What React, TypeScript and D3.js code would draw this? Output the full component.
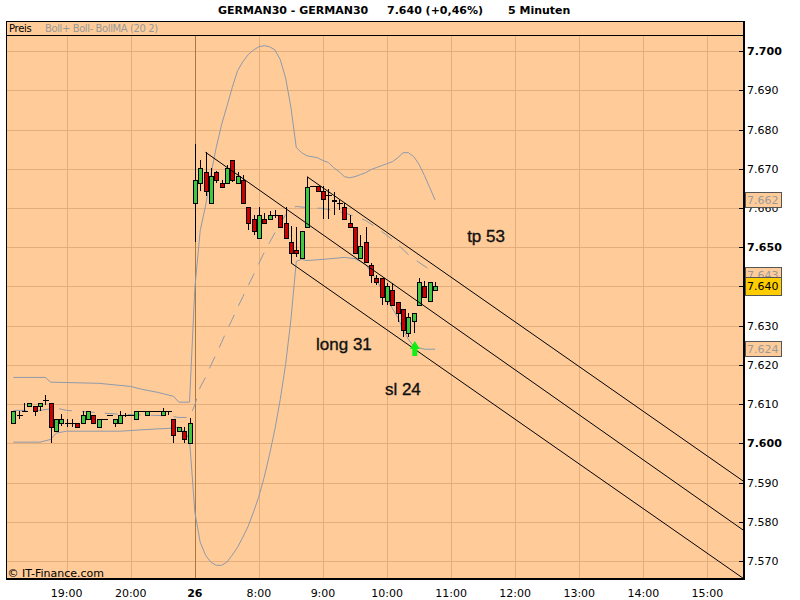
import * as d3 from "d3";

// 5-minute bars, one per slot: slots 0-33 are the evening session, 34-79 the morning of the 26th
const opens = [
  7605.3, 7607.2, 7608.2, 7609.4, 7609.4, 7609.4, 7611.0, 7610.4, 7603.1, 7605.3,
  7605.3, 7605.3, 7605.3, 7605.3, 7606.3, 7607.2, 7604.2, 7606.3, 7607.2, 7605.3,
  7605.3, 7607.2, 7607.2, 7606.3, 7608.2, 7607.2, 7608.2, 7608.2, 7607.2, 7608.2,
  7606.3, 7603.1, 7603.1, 7600.2,
  7661.3, 7666.4, 7669.2, 7661.3, 7669.1, 7666.3, 7666.3, 7672.3, 7666.3, 7667.2,
  7660.2, 7657.2, 7652.4, 7657.2, 7657.2, 7658.3, 7658.3, 7656.2, 7651.3, 7649.4,
  7647.3, 7655.2, 7665.5, 7665.5, 7664.3, 7663.2, 7662.0, 7661.2, 7660.3, 7656.2,
  7655.2, 7647.3, 7651.3, 7645.5, 7642.1, 7642.1, 7636.2, 7639.1, 7636.1, 7634.2,
  7628.1, 7631.1, 7635.3, 7640.2, 7636.2, 7639.0,
];
const highs = [
  7608.2, 7608.2, 7610.4, 7610.4, 7609.4, 7610.4, 7612.2, 7610.4, 7606.3, 7607.5,
  7606.3, 7606.3, 7605.3, 7608.2, 7608.2, 7607.2, 7606.3, 7606.3, 7607.2, 7606.3,
  7608.2, 7607.7, 7607.2, 7608.2, 7608.2, 7608.2, 7608.2, 7608.2, 7609.0, 7608.2,
  7606.3, 7604.2, 7604.2, 7606.4,
  7676.3, 7672.3, 7674.2, 7670.1, 7669.5, 7667.2, 7671.0, 7672.3, 7669.3, 7668.3,
  7660.2, 7658.3, 7660.3, 7658.6, 7659.2, 7659.5, 7658.3, 7660.3, 7655.4, 7655.2,
  7654.1, 7668.0, 7665.5, 7665.5, 7665.5, 7664.8, 7664.2, 7662.1, 7661.3, 7658.3,
  7655.2, 7653.0, 7655.2, 7646.0, 7643.0, 7642.1, 7641.0, 7641.0, 7636.1, 7634.2,
  7633.2, 7633.2, 7642.1, 7641.5, 7641.1, 7641.1,
];
const lows = [
  7605.3, 7606.3, 7608.2, 7609.4, 7607.0, 7608.2, 7609.7, 7600.2, 7603.1, 7604.5,
  7604.2, 7604.2, 7604.2, 7605.3, 7606.3, 7605.3, 7604.2, 7606.3, 7607.2, 7604.2,
  7605.3, 7606.7, 7607.2, 7606.3, 7608.2, 7607.2, 7608.2, 7608.2, 7607.2, 7607.2,
  7600.2, 7603.1, 7600.2, 7600.2,
  7651.3, 7664.3, 7663.0, 7661.3, 7666.3, 7665.3, 7666.3, 7666.5, 7666.3, 7661.3,
  7654.5, 7653.1, 7652.4, 7656.2, 7657.2, 7657.5, 7655.2, 7652.4, 7646.0, 7647.4,
  7647.3, 7655.2, 7665.5, 7664.3, 7657.3, 7657.2, 7658.3, 7659.5, 7657.2, 7655.2,
  7648.4, 7647.3, 7646.2, 7640.9, 7640.4, 7635.3, 7635.3, 7635.3, 7631.0, 7627.0,
  7627.2, 7628.1, 7635.3, 7637.4, 7636.2, 7639.0,
];
const closes = [
  7608.2, 7607.2, 7608.2, 7610.4, 7608.2, 7610.4, 7611.0, 7604.2, 7606.3, 7606.3,
  7605.3, 7605.3, 7604.2, 7607.2, 7608.2, 7605.3, 7606.3, 7606.3, 7607.2, 7606.3,
  7607.2, 7607.2, 7607.2, 7608.2, 7608.2, 7608.2, 7608.2, 7608.2, 7608.2, 7608.2,
  7602.1, 7604.2, 7601.2, 7605.3,
  7667.2, 7670.2, 7664.3, 7668.1, 7667.2, 7665.3, 7670.1, 7667.2, 7668.2, 7661.3,
  7656.3, 7654.1, 7658.3, 7656.2, 7658.3, 7658.3, 7655.2, 7652.4, 7648.4, 7648.4,
  7654.1, 7665.4, 7665.5, 7664.3, 7662.2, 7663.2, 7661.8, 7661.2, 7657.2, 7655.2,
  7648.4, 7650.4, 7646.2, 7643.0, 7641.1, 7637.4, 7640.0, 7635.3, 7633.2, 7628.9,
  7632.2, 7633.2, 7641.1, 7637.4, 7641.1, 7640.0,
];

// Bollinger (20, 2) as [slot, value]
const bollUpper: [number, number][] = [
  [0, 7616.8], [6, 7616.8], [7, 7615.6], [16, 7615.3], [22, 7614.5], [24, 7613.8],
  [27, 7613.0], [30, 7612.0], [31, 7610.5], [33, 7610.5], [34, 7639.5], [35, 7654.2],
  [36, 7660.5], [37, 7668.5], [38, 7675.4], [39, 7681.2], [40, 7685.9], [41, 7690.7],
  [42, 7695.0], [43, 7697.3], [44, 7699.1], [45, 7700.3], [46, 7701.1], [47, 7701.4],
  [48, 7701.1], [49, 7700.3], [50, 7697.8], [51, 7693.2], [52, 7685.6], [53, 7675.4],
  [54, 7674.1], [55, 7673.3], [57, 7672.8], [58, 7672.1], [59, 7671.6], [60, 7670.3],
  [61, 7669.3], [62, 7668.0], [63, 7667.7], [64, 7668.0], [65, 7668.5], [66, 7669.0],
  [67, 7669.8], [68, 7670.3], [69, 7670.8], [70, 7671.3], [71, 7671.8], [72, 7672.8],
  [73, 7674.1], [74, 7674.1], [75, 7673.1], [76, 7671.1], [77, 7668.3], [78, 7665.2],
  [79, 7662.0],
];
const bollMid: [number, number][] = [
  [0, 7608.4], [5, 7608.4], [8, 7609.0], [10, 7608.4], [15, 7607.9], [20, 7607.4],
  [25, 7607.2], [29, 7607.0], [31, 7606.6], [33, 7606.6], [34, 7609.8], [35, 7614.3],
  [36, 7616.8], [37, 7619.9], [38, 7622.7], [39, 7625.7], [40, 7628.8], [41, 7631.6],
  [42, 7634.6], [43, 7637.4], [44, 7640.2], [45, 7643.0], [46, 7645.9], [47, 7648.7],
  [48, 7651.2], [49, 7653.7], [50, 7656.0], [51, 7658.3], [52, 7659.9], [53, 7660.4],
  [55, 7660.1], [58, 7659.9], [60, 7659.3], [62, 7658.8], [64, 7657.8], [66, 7656.8],
  [68, 7655.0], [70, 7653.0], [72, 7650.7], [74, 7648.1], [76, 7646.1], [78, 7644.3],
  [79, 7643.0],
];
const bollLower: [number, number][] = [
  [0, 7600.3], [5, 7600.3], [7, 7601.0], [8, 7602.6], [10, 7603.1], [20, 7603.1],
  [26, 7603.6], [29, 7603.8], [31, 7604.1], [32, 7603.1], [33, 7601.0], [34, 7582.5],
  [35, 7574.8], [36, 7571.5], [37, 7569.7], [38, 7568.9], [39, 7568.9], [40, 7569.7],
  [41, 7571.5], [42, 7573.5], [43, 7576.1], [44, 7578.9], [45, 7582.5], [46, 7586.5],
  [47, 7591.4], [48, 7597.2], [49, 7603.6], [50, 7611.2], [51, 7620.1], [52, 7631.6],
  [53, 7646.4], [54, 7646.9], [55, 7646.6], [58, 7646.9], [62, 7647.4], [64, 7647.1],
  [66, 7645.6], [68, 7641.8], [70, 7636.7], [72, 7632.1], [73, 7629.0], [74, 7626.5],
  [75, 7624.7], [77, 7624.0], [79, 7624.0],
];

// hand-drawn channel lines: [slot0, price0, slot1, price1]
const trendLines: [number, number, number, number][] = [
  [36, 7674.2, 137, 7577.6],
  [55, 7668.0, 137, 7590.1],
  [52, 7646.0, 137, 7565.3],
];

const notes = [
  { text: "tp 53", slot: 85, price: 7651.3 },
  { text: "long 31", slot: 56.7, price: 7623.8 },
  { text: "sl 24", slot: 69.6, price: 7612.3 },
];
const entryArrow = { slot: 75.2, price: 7626.1 };

const tickSlots = [10, 22, 34, 46, 58, 70, 82, 94, 106, 118, 130];
const tickLabels = ["19:00", "20:00", "26", "8:00", "9:00", "10:00", "11:00", "12:00", "13:00", "14:00", "15:00"];
const dayBreakSlot = 34;
const priceTicks = d3.range(7570, 7701, 10);

const symbol = "GERMAN30 - GERMAN30";
const period = "5 Minuten";
const changePct = 0.46;

const de = d3.formatLocale({ decimal: ",", thousands: ".", grouping: [3], currency: ["", "€"] });
const fmtPrice = de.format(",.0f");
const fmtPct = de.format("+.2f");

const left = 6;
const right = 744;
const top = 21;
const legendBottom = 35;
const bottom = 579;

const bg = "#FFCC99";
const gridColor = "#E3AE7C";
const bandColor = "#8E99AB";

export default function App() {
  const x = d3.scaleLinear().domain([10, 130]).range([66.7, 707.4]);
  const y = d3.scaleLinear().domain([7570, 7700]).range([561, 51.1]);

  const band = d3
    .line<[number, number]>()
    .x((d) => x(d[0]))
    .y((d) => y(d[1]));

  const last = closes[closes.length - 1];
  const boxes = [
    { v: bollUpper[bollUpper.length - 1][1], fill: bg, color: "#9a9a9a", h: 15 },
    { v: bollMid[bollMid.length - 1][1], fill: bg, color: "#9a9a9a", h: 15 },
    { v: bollLower[bollLower.length - 1][1], fill: bg, color: "#9a9a9a", h: 15 },
    { v: last, fill: "#FFCC00", color: "#000", h: 17.5 },
  ];

  const ax = x(entryArrow.slot);
  const ay = y(entryArrow.price);

  return (
    <svg
      width={800}
      height={600}
      style={{ position: "absolute", left: 0, top: 0, background: "#fff" }}
      fontFamily="DejaVu Sans"
    >
      <defs>
        <clipPath id="plot">
          <rect x={left} y={legendBottom} width={right - left} height={bottom - legendBottom} />
        </clipPath>
      </defs>

      {/* title */}
      <g fontWeight="bold" fontSize={11} fill="#000">
        <text x={218} y={13.5}>{symbol}</text>
        <text x={387} y={13.5}>{`${fmtPrice(last)} (${fmtPct(changePct)}%)`}</text>
        <text x={508} y={13.5}>{period}</text>
      </g>

      <rect x={left} y={top} width={right - left} height={bottom - top} fill={bg} />

      {/* grid */}
      <g shapeRendering="crispEdges">
        {priceTicks.map((v) => (
          <line key={v} x1={left} x2={right} y1={Math.round(y(v)) + 0.5} y2={Math.round(y(v)) + 0.5} stroke={gridColor} />
        ))}
        {tickSlots.map((s) => (
          <line
            key={s}
            x1={Math.round(x(s)) + 0.5}
            x2={Math.round(x(s)) + 0.5}
            y1={legendBottom}
            y2={bottom}
            stroke={s === dayBreakSlot ? "#A87840" : gridColor}
          />
        ))}
      </g>

      <g clipPath="url(#plot)">
        {/* bollinger */}
        <path d={band(bollUpper) ?? ""} fill="none" stroke={bandColor} />
        <path d={band(bollLower) ?? ""} fill="none" stroke={bandColor} />
        <path d={band(bollMid) ?? ""} fill="none" stroke={bandColor} strokeDasharray="13 10" />

        {/* candles */}
        <g shapeRendering="crispEdges">
          {closes.map((c, i) => {
            const o = opens[i];
            const cx = Math.round(x(i)) + 0.5;
            const yt = Math.round(y(Math.max(o, c))) + 0.5;
            const yb = Math.round(y(Math.min(o, c))) + 0.5;
            return (
              <g key={i}>
                <line x1={cx} x2={cx} y1={y(highs[i])} y2={y(lows[i])} stroke="#000" />
                {yb - yt < 1 ? (
                  <line x1={cx - 3} x2={cx + 3} y1={yt} y2={yt} stroke="#000" />
                ) : (
                  <rect
                    x={cx - 2}
                    y={yt}
                    width={4}
                    height={yb - yt}
                    fill={c >= o ? "#3FC73F" : "#CC0000"}
                    stroke="#000"
                  />
                )}
              </g>
            );
          })}
        </g>

        {/* channel */}
        {trendLines.map((t, i) => (
          <line key={i} x1={x(t[0])} y1={y(t[1])} x2={x(t[2])} y2={y(t[3])} stroke="#000" strokeWidth={1} />
        ))}

        {/* notes */}
        {notes.map((n) => (
          <text
            key={n.text}
            x={x(n.slot)}
            y={y(n.price)}
            fontFamily="Liberation Sans, Arial"
            fontSize={17}
            fill="#111"
            stroke="#111"
            strokeWidth={0.35}
          >
            {n.text}
          </text>
        ))}
        <path
          d={`M${ax},${ay} L${ax + 5},${ay + 8} L${ax + 2.5},${ay + 8} L${ax + 2.5},${ay + 15} L${ax - 2.5},${ay + 15} L${ax - 2.5},${ay + 8} L${ax - 5},${ay + 8} Z`}
          fill="#11EE11"
        />
      </g>

      {/* legend strip */}
      <line x1={left} x2={right} y1={legendBottom + 0.5} y2={legendBottom + 0.5} stroke="#000" shapeRendering="crispEdges" />
      <text x={9} y={31.5} fontSize={10} letterSpacing={-0.3} fill="#000">Preis</text>
      <text x={45} y={31.5} fontSize={10} letterSpacing={-0.4} fill="#999">Boll+ Boll- BollMA (20 2)</text>
      <text x={7.5} y={577} fontSize={11} fill="#000">© IT-Finance.com</text>

      {/* frame */}
      <g shapeRendering="crispEdges" stroke="#000">
        <line x1={left + 0.5} x2={left + 0.5} y1={top} y2={bottom} />
        <line x1={left} x2={right} y1={top + 0.5} y2={top + 0.5} />
        <line x1={left} x2={right + 1} y1={bottom} y2={bottom} strokeWidth={2} />
        <line x1={right} x2={right} y1={top} y2={bottom + 1} strokeWidth={2} />
      </g>

      {/* price axis */}
      <g fontSize={11}>
        {priceTicks.map((v) => (
          <g key={v}>
            <line x1={right - 5} x2={right} y1={Math.round(y(v)) + 0.5} y2={Math.round(y(v)) + 0.5} stroke="#000" shapeRendering="crispEdges" />
            <text x={right + 3} y={y(v) + 4} fontWeight={v % 50 === 0 ? "bold" : "normal"} fill="#000">
              {fmtPrice(v)}
            </text>
          </g>
        ))}
        {boxes.map((b) => (
          <g key={b.v + b.fill}>
            <rect
              x={right + 1.5}
              y={y(b.v) - b.h / 2}
              width={35.5}
              height={b.h}
              fill={b.fill}
              stroke="#555"
              shapeRendering="crispEdges"
            />
            <text x={right + 3} y={y(b.v) + 4} fill={b.color}>{fmtPrice(b.v)}</text>
          </g>
        ))}
      </g>

      {/* time axis */}
      <g fontSize={11} textAnchor="middle">
        {tickSlots.map((s, i) => (
          <text key={s} x={x(s)} y={596.5} fontWeight={s === dayBreakSlot ? "bold" : "normal"} fill="#000">
            {tickLabels[i]}
          </text>
        ))}
      </g>
    </svg>
  );
}
